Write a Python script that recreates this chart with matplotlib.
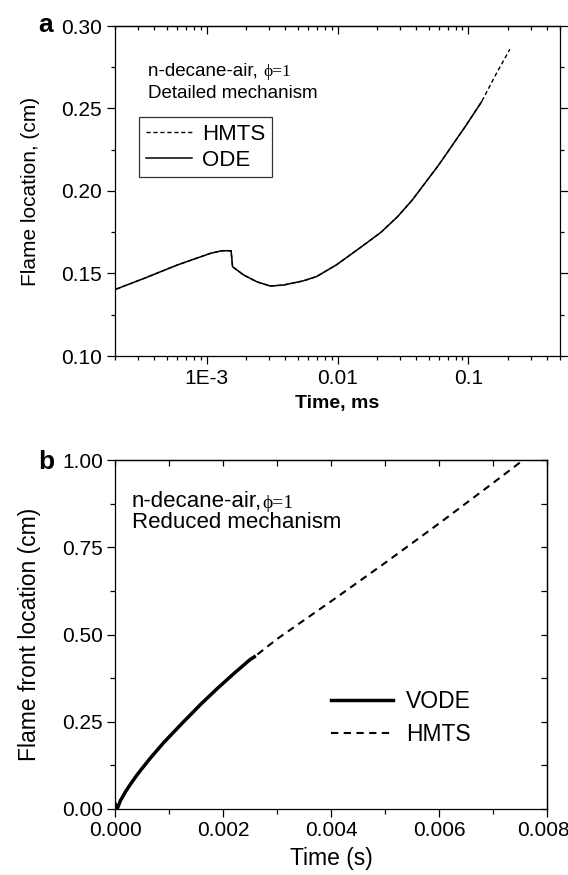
import numpy as np
import matplotlib
matplotlib.use('Agg')
import matplotlib.pyplot as plt
import matplotlib.transforms as mtransforms
from matplotlib.ticker import FixedLocator, FixedFormatter, MultipleLocator, LogLocator, NullFormatter

plt.rcParams['font.family'] = ['Liberation Sans', 'DejaVu Sans']

# panel a: flame location vs time (log axis), detailed mechanism
ode_t = [2.05e-4, 3.35e-4, 6.0e-4, 1.07e-3, 1.31e-3, 1.54e-3, 1.58e-3, 1.92e-3, 2.42e-3,
         3.06e-3, 3.86e-3, 5.46e-3, 6.9e-3, 9.8e-3, 0.0147, 0.0215, 0.0288, 0.0372, 0.0593,
         0.0944, 0.126]
ode_y = [0.1406, 0.1471, 0.1552, 0.1622, 0.1638, 0.1638, 0.1541, 0.1491, 0.1450,
         0.1424, 0.1430, 0.1455, 0.1481, 0.1552, 0.1653, 0.1750, 0.1845, 0.1945, 0.2158,
         0.2390, 0.2541]
hmts_ext_t = [0.161, 0.207]
hmts_ext_y = [0.2703, 0.2859]
hmts_t = ode_t + hmts_ext_t
hmts_y = ode_y + hmts_ext_y

# panel b: flame front location vs time, reduced mechanism
vode_t = [0.0, 0.00004, 0.0001, 0.00015, 0.0002, 0.0003, 0.0004, 0.0005, 0.00065,
          0.0009, 0.00127, 0.0016, 0.0019, 0.0022, 0.0025, 0.00258]
vode_y = [0.015, 0.0, 0.024, 0.037, 0.051, 0.074, 0.096, 0.116, 0.145,
          0.190, 0.250, 0.302, 0.346, 0.388, 0.428, 0.436]
hmtsb_ext_t = [0.003, 0.004, 0.005, 0.006, 0.007, 0.00756]
hmtsb_ext_y = [0.487, 0.595, 0.705, 0.818, 0.934, 1.0]
hmtsb_t = vode_t + hmtsb_ext_t
hmtsb_y = vode_y + hmtsb_ext_y

W, H = 568, 875
fig = plt.figure(figsize=(W/100, H/100), dpi=100)

def box(l, t, r, b):
    return [l/W, 1-b/H, (r-l)/W, (b-t)/H]

tick_fs = 15

# ---------------- panel a
ax = fig.add_axes(box(115, 26, 560, 356))
ax.plot(hmts_t, hmts_y, color='k', lw=1.0, ls=(0, (3, 2)), label='HMTS')
ax.plot(ode_t, ode_y, color='k', lw=1.1, label='ODE')
ax.set_xscale('log')
ax.set_xlim(2e-4, 0.5)
ax.set_ylim(0.10, 0.30)
ax.xaxis.set_major_locator(FixedLocator([1e-3, 1e-2, 1e-1]))
ax.xaxis.set_major_formatter(FixedFormatter(['1E-3', '0.01', '0.1']))
ax.xaxis.set_minor_locator(LogLocator(base=10, subs=np.arange(2, 10)))
ax.xaxis.set_minor_formatter(NullFormatter())
ax.yaxis.set_major_locator(MultipleLocator(0.05))
ax.yaxis.set_minor_locator(MultipleLocator(0.025))
ax.yaxis.set_major_formatter(plt.FuncFormatter(lambda v, p: '%.2f' % v))
ax.tick_params(which='both', labelsize=tick_fs, width=0.9, top=False, right=True, direction='out')
ax.tick_params(which='major', length=5.5, pad=4)
ax.tick_params(which='minor', length=3)
for s in ax.spines.values():
    s.set_linewidth(0.9)

top_a = ax.secondary_xaxis('top')
top_a.xaxis.set_major_locator(FixedLocator([1e-3, 1e-2, 1e-1]))
top_a.xaxis.set_minor_locator(LogLocator(base=10, subs=np.arange(2, 10)))
top_a.tick_params(which='both', direction='in', labeltop=False, width=0.9)
top_a.tick_params(which='major', length=5.5)
top_a.tick_params(which='minor', length=3)
top_a.spines['top'].set_linewidth(0.9)

ax.set_xlabel('Time, ms', fontsize=14, fontweight='bold', labelpad=5)
ax.set_ylabel('Flame location, (cm)', fontsize=15)
ax.yaxis.set_label_coords(-0.168, 0.5)

t1 = ax.text(148/W, 1-71/H, 'n-decane-air, ', transform=fig.transFigure, fontsize=13.5, va='center')
ax.annotate('ϕ=1', xy=(1, 0), xycoords=t1, va='bottom', fontsize=12.5,
            family=['Liberation Serif', 'DejaVu Serif'])
ax.text(148/W, 1-93/H, 'Detailed mechanism', transform=fig.transFigure, fontsize=13.5, va='center')
fig.text(38/W, 1-25/H, 'a', fontsize=19, fontweight='bold', va='center')

leg = ax.legend(loc='upper left', bbox_to_anchor=(0.054, 0.724), fontsize=16, frameon=True,
                fancybox=False, edgecolor='k', borderaxespad=0, borderpad=0.3,
                handlelength=2.1, handletextpad=0.45, labelspacing=0.22)
leg.get_frame().set_linewidth(0.9)

# ---------------- panel b
bx = fig.add_axes(box(115, 460, 547, 809))
bx.plot(hmtsb_t, hmtsb_y, color='k', lw=1.5, ls=(0, (3.5, 2.6)), label='HMTS')
bx.plot(vode_t, vode_y, color='k', lw=2.5, label='VODE')
bx.set_xlim(0, 0.008)
bx.set_ylim(0, 1.0)
bx.xaxis.set_major_locator(MultipleLocator(0.002))
bx.xaxis.set_minor_locator(MultipleLocator(0.001))
bx.xaxis.set_major_formatter(plt.FuncFormatter(lambda v, p: '%.3f' % v))
bx.yaxis.set_major_locator(MultipleLocator(0.25))
bx.yaxis.set_minor_locator(MultipleLocator(0.125))
bx.yaxis.set_major_formatter(plt.FuncFormatter(lambda v, p: '%.2f' % v))
bx.tick_params(which='both', labelsize=tick_fs, width=0.9, top=False, right=False, direction='out')
bx.tick_params(which='major', length=5.5, pad=3)
bx.tick_params(which='minor', length=3.5)
for s in bx.spines.values():
    s.set_linewidth(0.9)

top_b = bx.secondary_xaxis('top')
top_b.xaxis.set_major_locator(MultipleLocator(0.001))
top_b.tick_params(direction='in', labeltop=False, width=0.9, length=4.5)
top_b.spines['top'].set_linewidth(0.9)
right_b = bx.secondary_yaxis('right')
right_b.yaxis.set_major_locator(MultipleLocator(0.125))
right_b.tick_params(direction='in', labelright=False, width=0.9, length=4.5)
right_b.spines['right'].set_linewidth(0.9)

bx.set_xlabel('Time (s)', fontsize=16.5, labelpad=5)
bx.set_ylabel('Flame front location (cm)', fontsize=16.5)
bx.yaxis.set_label_coords(-0.172, 0.5)

# keep the last x tick label inside the picture
fig.canvas.draw()
for tl in bx.xaxis.get_majorticklabels():
    if tl.get_text() == '0.008':
        tl.set_transform(tl.get_transform() + mtransforms.ScaledTranslation(-4/100, 0, fig.dpi_scale_trans))

t2 = bx.text(132/W, 1-502/H, 'n-decane-air,', transform=fig.transFigure, fontsize=16, va='center')
bx.annotate('ϕ=1', xy=(1, 0), xycoords=t2, va='bottom', fontsize=14,
            family=['Liberation Serif', 'DejaVu Serif'])
bx.text(132/W, 1-523/H, 'Reduced mechanism', transform=fig.transFigure, fontsize=16, va='center')
fig.text(38/W, 1-462/H, 'b', fontsize=19, fontweight='bold', va='center')

h, l = bx.get_legend_handles_labels()
bx.legend([h[1], h[0]], [l[1], l[0]], loc='upper left', bbox_to_anchor=(0.5, 0.341), fontsize=16.5,
          frameon=False, borderaxespad=0, borderpad=0, handlelength=2.7, handletextpad=0.57,
          labelspacing=0.45)

fig.savefig('out.png', dpi=100)
